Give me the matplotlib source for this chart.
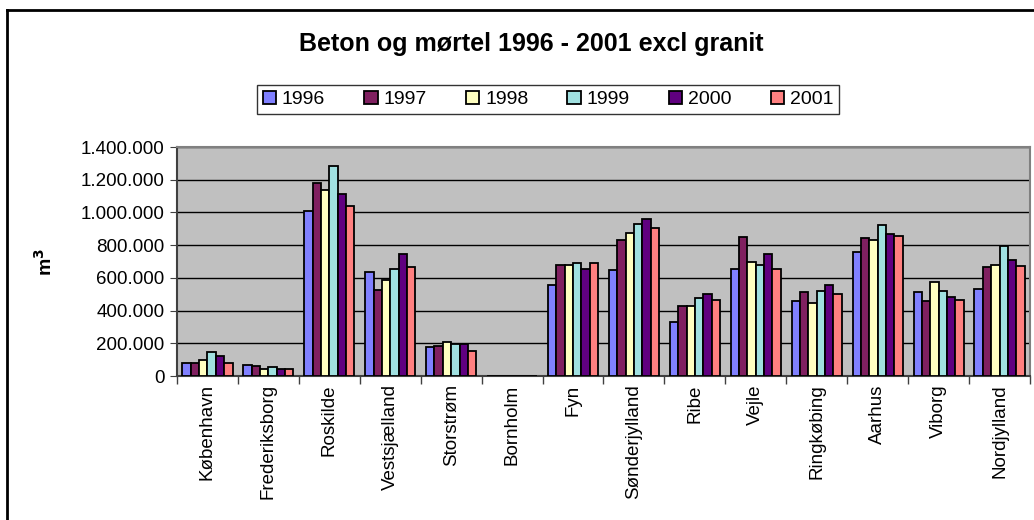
import matplotlib
matplotlib.use("Agg")
import matplotlib.pyplot as plt
from matplotlib.ticker import FuncFormatter
from matplotlib.lines import Line2D
import numpy as np

plt.rcParams['font.family'] = ['Liberation Sans', 'DejaVu Sans']

#%% Data (m3 per county and year)
regions = ['København', 'Frederiksborg', 'Roskilde', 'Vestsjælland', 'Storstrøm',
           'Bornholm', 'Fyn', 'Sønderjylland', 'Ribe', 'Vejle', 'Ringkøbing',
           'Aarhus', 'Viborg', 'Nordjylland']
years = ['1996', '1997', '1998', '1999', '2000', '2001']
v1996 = [80000, 69000, 1011000, 633000, 178000, 0, 556000, 646000, 331000, 652000, 456000, 760000, 511000, 529000]
v1997 = [80000, 61000, 1183000, 527000, 186000, 0, 681000, 832000, 429000, 850000, 511000, 842000, 456000, 664000]
v1998 = [100000, 43000, 1136000, 588000, 206000, 0, 679000, 877000, 429000, 697000, 448000, 832000, 574000, 681000]
v1999 = [145000, 53000, 1281000, 654000, 196000, 0, 689000, 932000, 474000, 681000, 519000, 922000, 519000, 797000]
v2000 = [125000, 43000, 1112000, 744000, 196000, 0, 654000, 959000, 501000, 744000, 556000, 867000, 484000, 707000]
v2001 = [80000, 43000, 1040000, 664000, 153000, 0, 689000, 905000, 466000, 654000, 501000, 858000, 466000, 673000]
series = [v1996, v1997, v1998, v1999, v2000, v2001]
colors = ['#8080FF', '#802060', '#FFFFC0', '#A0E0E0', '#600080', '#FF8080']

#%% Figure
fig = plt.figure(figsize=(10.34, 5.2), dpi=100)
ax = fig.add_axes([0.1712, 0.2769, 0.8249, 0.4404])
ax.set_facecolor('#C0C0C0')

x = np.arange(len(regions))
barW = 0.137
for i, vals in enumerate(series):
    ax.bar(x + (i - 2.5) * barW, vals, width=barW, color=colors[i],
           edgecolor='black', linewidth=1.3, label=years[i], zorder=3)

ax.set_xlim(-0.5, len(regions) - 0.5)
ax.set_ylim(0, 1400000)
ax.set_yticks(np.arange(0, 1400001, 200000))
ax.yaxis.set_major_formatter(FuncFormatter(lambda v, p: f"{int(v):,}".replace(',', '.')))
ax.yaxis.grid(True, color='black', linewidth=1.0, zorder=1)
ax.set_axisbelow(True)

# ticks at category boundaries, labels at centres
ax.set_xticks(np.arange(-0.5, len(regions), 1.0))
ax.set_xticklabels([])
ax.set_xticks(x, minor=True)
ax.set_xticklabels(regions, minor=True, rotation=90, fontsize=13.5)
ax.tick_params(axis='x', which='minor', length=0, pad=6)
ax.tick_params(axis='x', which='major', length=6, color='#404040', width=1)
ax.tick_params(axis='y', length=5, color='#404040', labelsize=13.5, pad=4)

for s in ax.spines.values():
    s.set_color('#808080')
    s.set_linewidth(1.5)
ax.spines['bottom'].set_color('#404040')
ax.spines['left'].set_color('#404040')

ax.set_ylabel('m$^\\mathbf{3}$', fontsize=14, fontweight='bold', labelpad=18)

fig.text(0.514, 0.915, 'Beton og mørtel 1996 - 2001 excl granit', ha='center', va='center',
         fontsize=18, fontweight='bold')

leg = fig.legend(loc='center', bbox_to_anchor=(0.530, 0.809), ncol=6, fontsize=14,
                 frameon=True, fancybox=False, edgecolor='black', handlelength=0.7,
                 handleheight=0.7, columnspacing=2.0, handletextpad=0.3,
                 borderpad=0.3)
leg.get_frame().set_linewidth(1.0)

# outer chart frame (left and top visible)
fig.add_artist(Line2D([7/1034, 7/1034], [0, 1 - 10/520], color='black', linewidth=2,
                      transform=fig.transFigure))
fig.add_artist(Line2D([7/1034, 1], [1 - 10/520, 1 - 10/520], color='black', linewidth=2,
                      transform=fig.transFigure))

fig.savefig('out.png', dpi=100)
